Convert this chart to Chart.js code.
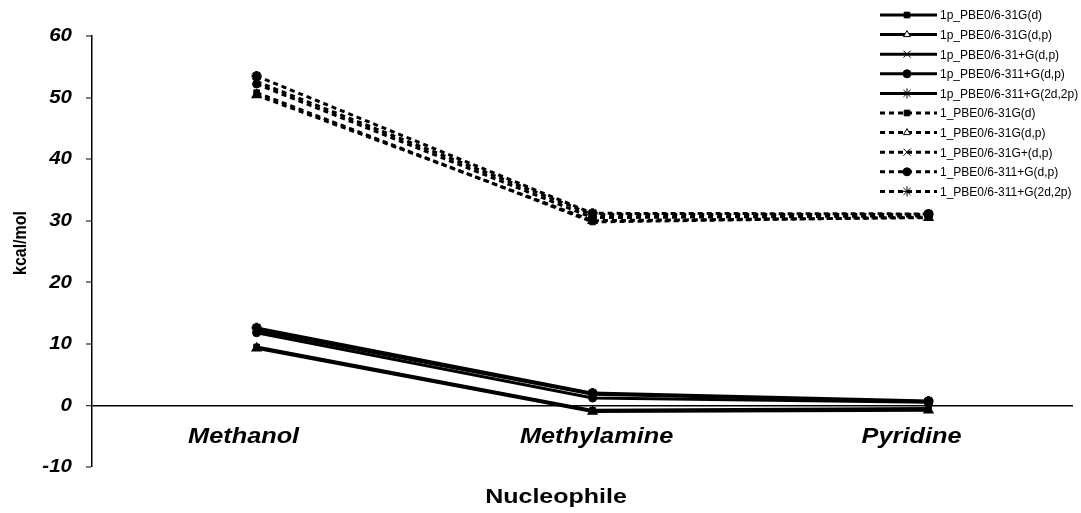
<!DOCTYPE html>
<html><head><meta charset="utf-8">
<script src="https://cdn.jsdelivr.net/npm/chart.js@4/dist/chart.umd.min.js"></script>
<style>html,body{margin:0;padding:0;background:#fff}#wrap{width:1081px;height:513px}</style>
</head><body><div id="wrap"><canvas id="c" width="1081" height="513"></canvas></div>
<script>
const categories = ["Methanol", "Methylamine", "Pyridine"];
const yTicks = [-10, 0, 10, 20, 30, 40, 50, 60];
const seriesLabels = [
  "1p_PBE0/6-31G(d)", "1p_PBE0/6-31G(d,p)", "1p_PBE0/6-31+G(d,p)", "1p_PBE0/6-311+G(d,p)", "1p_PBE0/6-311+G(2d,2p)",
  "1_PBE0/6-31G(d)", "1_PBE0/6-31G(d,p)", "1_PBE0/6-31G+(d,p)", "1_PBE0/6-311+G(d,p)", "1_PBE0/6-311+G(2d,2p)"
];
const p_631Gd      = [9.5, -0.8, -0.5];
const p_631Gdp     = [9.3, -1.0, -0.8];
const p_631pGdp    = [12.2, 1.8, 0.6];
const p_6311pGdp   = [11.8, 1.2, 0.5];
const p_6311pG2d2p = [12.6, 2.0, 0.7];
const r_631Gd      = [50.8, 29.8, 30.6];
const r_631Gdp     = [50.4, 30.0, 30.5];
const r_631Gpdp    = [52.6, 31.0, 31.0];
const r_6311pGdp   = [52.2, 30.5, 30.8];
const r_6311pG2d2p = [53.5, 31.2, 31.1];

const seriesValues = [p_631Gd, p_631Gdp, p_631pGdp, p_6311pGdp, p_6311pG2d2p,
                      r_631Gd, r_631Gdp, r_631Gpdp, r_6311pGdp, r_6311pG2d2p];
const markers = ['rect', 'triangle', 'crossRot', 'circle', 'star'];

const datasets = seriesValues.map((vals, i) => {
  const dashed = i >= 5;
  const m = markers[i % 5];
  return {
    label: seriesLabels[i],
    data: vals.map((v, j) => ({x: j, y: v})),
    borderColor: '#000',
    backgroundColor: m === 'triangle' ? '#fff' : '#000',
    borderWidth: 3,
    borderDash: dashed ? [5, 4] : [],
    pointStyle: m,
    pointRadius: m === 'star' || m === 'crossRot' ? 5 : 4,
    pointBorderWidth: m === 'triangle' ? 2.5 : (m === 'star' || m === 'crossRot' ? 3 : 1),
    pointBorderColor: '#000',
    pointBackgroundColor: m === 'triangle' ? '#fff' : '#000',
    tension: 0
  };
});

const FAM = '"Liberation Sans", Arial, sans-serif';
function stretchText(ctx, text, x, y, font, sx, align) {
  ctx.save();
  ctx.font = font;
  ctx.textBaseline = 'middle';
  ctx.textAlign = align || 'center';
  ctx.translate(x, y);
  ctx.scale(sx, 1);
  ctx.fillText(text, 0, 0);
  ctx.restore();
}

const customDraw = {
  id: 'customDraw',
  afterDraw(chart) {
    const ctx = chart.ctx;
    const xs = chart.scales.x, ys = chart.scales.y;
    ctx.save();
    ctx.fillStyle = '#000';
    // y tick labels
    yTicks.forEach(v => {
      stretchText(ctx, String(v), 72, ys.getPixelForValue(v), 'italic bold 19px ' + FAM, 1.08, 'right');
    });
    // category labels
    const catShift = [-13, 4, -17];
    categories.forEach((c, i) => {
      stretchText(ctx, c, xs.getPixelForValue(i) + catShift[i], ys.getPixelForValue(0) + 32,
        'italic bold 22px ' + FAM, 1.15);
    });
    // x title
    stretchText(ctx, 'Nucleophile', 556, 497, 'bold 20px ' + FAM, 1.25);
    // y title
    ctx.save();
    ctx.translate(21, 243);
    ctx.rotate(-Math.PI / 2);
    ctx.scale(1, 1.15);
    ctx.font = 'bold 16px ' + FAM;
    ctx.textAlign = 'center';
    ctx.textBaseline = 'middle';
    ctx.fillText('kcal/mol', 0, 0);
    ctx.restore();
    // legend
    ctx.font = '12px ' + FAM;
    ctx.textAlign = 'left';
    ctx.textBaseline = 'middle';
    chart.data.datasets.forEach((ds, i) => {
      const y = 15 + i * 19.6;
      ctx.save();
      ctx.strokeStyle = '#000';
      ctx.lineWidth = ds.borderWidth;
      ctx.setLineDash(ds.borderDash);
      ctx.beginPath();
      ctx.moveTo(880, y); ctx.lineTo(937, y);
      ctx.stroke();
      ctx.restore();
      ctx.save();
      ctx.fillStyle = ds.pointBackgroundColor;
      ctx.strokeStyle = '#000';
      Chart.helpers.drawPoint(ctx, {
        pointStyle: ds.pointStyle, radius: ds.pointRadius, borderWidth: ds.pointBorderWidth, rotation: 0
      }, 907, y);
      ctx.restore();
      ctx.fillStyle = '#000';
      ctx.fillText(ds.label, 940, y + 1);
    });
    ctx.restore();
  }
};

new Chart(document.getElementById('c'), {
  type: 'line',
  data: { datasets },
  options: {
    responsive: false,
    animation: false,
    devicePixelRatio: 1,
    layout: { padding: { left: 0, top: 36, right: 0, bottom: 46 } },
    plugins: { legend: { display: false }, tooltip: { enabled: false } },
    scales: {
      x: { type: 'linear', min: -0.49, max: 2.43, display: false },
      y: {
        min: -10, max: 60,
        afterFit(scale) { scale.width = 92; },
        afterBuildTicks(scale) { scale.ticks = yTicks.map(v => ({value: v})); },
        border: { display: true, color: '#000', width: 1.5 },
        grid: {
          drawOnChartArea: true,
          color: ctx => (ctx.tick && ctx.tick.value === 0) ? '#000' : 'rgba(0,0,0,0)',
          lineWidth: ctx => (ctx.tick && ctx.tick.value === 0) ? 1.5 : 0,
          tickColor: '#000', tickLength: 6, tickWidth: 1
        },
        ticks: { display: false },
        title: { display: false }
      }
    }
  },
  plugins: [customDraw]
});
</script>
</body></html>
